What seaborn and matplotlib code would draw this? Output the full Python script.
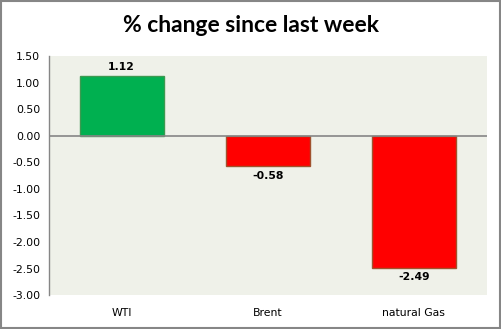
import matplotlib
matplotlib.use("Agg")
import matplotlib.pyplot as plt
import seaborn as sns
import pandas as pd
from matplotlib.patches import Rectangle

categories = ["WTI", "Brent", "natural Gas"]
values = [1.12, -0.58, -2.49]
yticks = [1.5, 1.0, 0.5, 0.0, -0.5, -1.0, -1.5, -2.0, -2.5, -3.0]

df = pd.DataFrame({"cat": categories, "val": values})
colors = ["#00B050" if v >= 0 else "#FF0000" for v in values]
edges = ["#3C9A50" if v >= 0 else "#A0522D" for v in values]

sns.set_style("white")
plt.rcParams['font.family'] = ['DejaVu Sans']
plt.rcParams['text.color'] = 'black'
plt.rcParams['xtick.color'] = 'black'
plt.rcParams['ytick.color'] = 'black'
fig = plt.figure(figsize=(5.02, 3.29), dpi=100)
fig.patch.set_facecolor("white")
ax = fig.add_axes([0.097, 0.103, 0.873, 0.727])
ax.set_facecolor("#EFF1E9")

sns.barplot(data=df, x="cat", y="val", hue="cat", palette=colors, legend=False,
            width=0.574, ax=ax, saturation=1)
for p, ec in zip(ax.patches, edges):
    p.set_edgecolor(ec)
    p.set_linewidth(1.0)

ax.set_ylim(-3.0, 1.5)
ax.set_xlim(-0.5, 2.5)
ax.set_yticks(yticks)
ax.set_yticklabels([f"{t:.2f}" for t in yticks], fontsize=7.8)
ax.tick_params(axis="y", length=0, pad=6, colors="black")
ax.tick_params(axis="x", length=0, pad=9, labelsize=7.8, colors="black")
ax.set_xlabel("")
ax.set_ylabel("")
ax.axhline(0, color="#868686", lw=1.2, zorder=1)
for s in ["top", "right", "bottom"]:
    ax.spines[s].set_visible(False)
ax.spines["left"].set_color("#868686")
ax.spines["left"].set_linewidth(1.0)

for i, v in enumerate(values):
    if v >= 0:
        ax.text(i, v + 0.08, f"{v:.2f}", ha="center", va="bottom", fontsize=7.8,
                fontweight="bold", color="black")
    else:
        ax.text(i, v - 0.08, f"{v:.2f}", ha="center", va="top", fontsize=7.8,
                fontweight="bold", color="black")

fig.text(0.5, 0.922, "% change since last week", ha="center", va="center",
         fontsize=16.5, fontweight="bold", color="black", family=["Lato", "DejaVu Sans"])

fig.patches.append(Rectangle((0.002, 0.003), 0.995, 0.994, transform=fig.transFigure,
                             fill=False, edgecolor="#868686", lw=1.5))
fig.savefig("out.png", dpi=100)
